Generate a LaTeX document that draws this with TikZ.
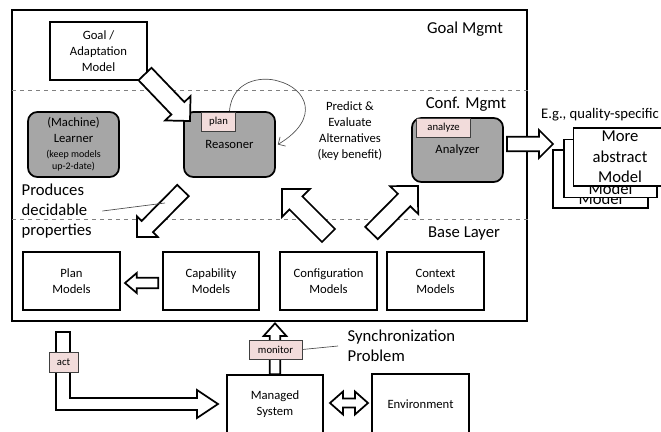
\documentclass[tikz,border=0pt]{standalone}
\usepackage{fontspec}
\setmainfont{Carlito}
\usetikzlibrary{calc,arrows.meta}
\definecolor{boxgray}{RGB}{166,166,166}
\definecolor{tagpink}{RGB}{242,220,219}
\definecolor{dashgray}{RGB}{128,128,128}

% block arrow: from, to, shaft half width, head half width, head length
\newcommand{\fatarrow}[5]{%
  \coordinate (fa) at ($(#2)!#5!(#1)$);
  \filldraw[fat] ($(#1)!#3!90:(#2)$) -- ($(fa)!#3!90:(#2)$) -- ($(fa)!#4!90:(#2)$)
    -- (#2) -- ($(fa)!#4!-90:(#2)$) -- ($(fa)!#3!-90:(#2)$) -- ($(#1)!#3!-90:(#2)$) -- cycle;
}
\newcommand{\fatdouble}[5]{%
  \coordinate (fa) at ($(#2)!#5!(#1)$);
  \coordinate (fb) at ($(#1)!#5!(#2)$);
  \filldraw[fat] (#1) -- ($(fb)!#4!90:(#2)$) -- ($(fb)!#3!90:(#2)$) -- ($(fa)!#3!90:(#2)$)
    -- ($(fa)!#4!90:(#2)$) -- (#2) -- ($(fa)!#4!-90:(#2)$) -- ($(fa)!#3!-90:(#2)$)
    -- ($(fb)!#3!-90:(#2)$) -- ($(fb)!#4!-90:(#2)$) -- cycle;
}

\begin{document}
\begin{tikzpicture}[x=0.75pt,y=-0.75pt,font=\fontsize{9.5}{12}\selectfont]
\tikzstyle{box}=[draw,line width=1.3pt,minimum width=72.75pt,minimum height=43.5pt,inner sep=1pt,align=center]
\tikzstyle{gray box}=[box,fill=boxgray,rounded corners=7pt,minimum width=68.25pt,minimum height=48.75pt]
\tikzstyle{tag}=[draw=black!75,fill=tagpink,line width=0.6pt,inner sep=0pt,minimum height=14.25pt,font=\fontsize{8}{9}\selectfont]
\tikzstyle{layer}=[font=\fontsize{12.5}{15}\selectfont]
\tikzstyle{model}=[box,fill=white,minimum width=69.75pt,font=\fontsize{12.5}{15.5}\selectfont]
\tikzstyle{fat}=[fill=white,draw=black,line width=1.3pt,line join=miter]
\tikzstyle{layer line}=[dashed,dashgray,line width=0.6pt]
\tikzstyle{pointer}=[black!70,line width=0.5pt]

\useasboundingbox (0,0) rectangle (661,432);
\clip (0,0) rectangle (661,432);

\node[draw,line width=1.3pt,minimum width=386.25pt,minimum height=233.25pt] (frame) at (269.5,165.5) {};
\coordinate (goal line) at (12,90);
\coordinate (base line) at (12,219);
\draw[layer line] (goal line) -- (goal line -| frame.east);
\draw[layer line] (base line) -- (base line -| frame.east);

\node[layer] (goal mgmt) at (465,29) {Goal Mgmt};
\node[layer] (conf mgmt) at (466,104) {Conf. Mgmt};
\node[layer] (base layer) at (464,233) {Base Layer};

\node[box] (goal) at (98.5,51) {Goal /\\Adaptation\\Model};
\node[gray box] (learner) at (73.5,144.5) {(Machine)\\Learner\\[-1pt]{\fontsize{7.5}{8}\selectfont (keep models}\\[-3pt]{\fontsize{7.5}{8}\selectfont up-2-date)}};
\node[gray box] (reasoner) at (229.5,144.5) {Reasoner};
\node[gray box,minimum height=48pt] (analyzer) at (457.5,150) {Analyzer};
\node[tag,minimum width=25.5pt,anchor=north west] (plan) at ($(reasoner.north west)+(18,1)$) {plan};
\node[tag,minimum width=40.5pt,anchor=north west] (analyze) at ($(analyzer.north west)+(5,1)$) {analyze};

\node[align=center] (predict) at (350,131) {Predict \&\\Evaluate\\Alternatives\\(key benefit)};
\node[layer,align=left,anchor=west] (produces) at (17,211) {Produces\\decidable\\properties};

\node[box] (plan models) at (71.5,281) {Plan\\Models};
\node[box,minimum width=72pt] (capability) at (211,281) {Capability\\Models};
\node[box] (configuration) at (328.5,281) {Configuration\\Models};
\node[box] (context) at (435.5,281) {Context\\Models};

\node[box,minimum width=72pt] (managed) at (275,404) {Managed\\System};
\node[box,minimum height=45pt] (environment) at (420.5,404) {Environment};

% stacked abstract models
\node[model,minimum width=71.25pt] (model back) at (600.5,179) {};
\node[font=\fontsize{12.5}{15.5}\selectfont] (model back text) at ($(model back.center)+(0,20)$) {Model};
\node[model] (model mid) at (610.5,168.5) {};
\node[font=\fontsize{12.5}{15.5}\selectfont] (model mid text) at ($(model mid.center)+(0,20)$) {Model};
\node[model] (model front) at (620,157) {More\\abstract\\Model};
\node[font=\fontsize{11}{13}\selectfont] (eg) at (600,115) {E.g., quality-specific};

\node[layer,align=left,anchor=west] (sync) at (343,346) {Synchronization\\Problem};

% block arrows
\coordinate (goal out) at (145,74);
\coordinate (reasoner in) at (190,121);
\fatarrow{goal out}{reasoner in}{6.75pt}{13.2pt}{13.2pt}
\coordinate (reasoner out) at (183,190.5);
\coordinate (decidable in) at (137,237);
\fatarrow{reasoner out}{decidable in}{6pt}{11pt}{11pt}
\coordinate (config out) at (328.5,235.5);
\coordinate (reasoner back) at (282,189);
\fatarrow{config out}{reasoner back}{6.9pt}{14.8pt}{14.8pt}
\coordinate (context out) at (371.5,233);
\coordinate (analyzer in) at (418,186);
\fatarrow{context out}{analyzer in}{6.6pt}{14.8pt}{14.8pt}
\coordinate (analyzer out) at (507,144);
\coordinate (stack in) at (553,144);
\fatarrow{analyzer out}{stack in}{5.5pt}{10.5pt}{10.5pt}
\coordinate (capability out) at (158.3,283);
\coordinate (plan in) at (125,283);
\fatarrow{capability out}{plan in}{4pt}{7.5pt}{8.8pt}
\coordinate (frame in) at (275,323.3);
\fatarrow{managed.north}{frame in}{4pt}{8.5pt}{9.5pt}
\coordinate (managed east) at (330,403);
\coordinate (environment west) at (368,403);
\fatdouble{managed east}{environment west}{3.4pt}{8.6pt}{9.75pt}

% act arrow
\coordinate (act from) at (63,332);
\coordinate (act to) at (218,404);
\filldraw[fat] ($(act from)+(-7,0)$) -- ++(14,0) |- ($(act to)+(-21,-6)$) -- ++(0,-8)
  -- (act to) -- ++(-21,14) -- ++(0,-8) -| ($(act from)+(-7,0)$) -- cycle;
\node[tag,minimum width=21.75pt,minimum height=15pt] (act) at (63.5,362) {act};
\node[tag,minimum width=39.75pt] (monitor) at (275.5,349.5) {monitor};

% self loop and pointers
\draw[pointer,-{Straight Barb[length=4pt,width=8pt]}] (reasoner.north) .. controls (232,80) and (262,76) .. (278,81)
  .. controls (306,88) and (322,118) .. ($(reasoner.east)+(2,0)$);
\draw[pointer] ($(produces.east)+(6,0)$) -- (165,203);
\draw[pointer] (monitor.east) -- ([xshift=-3.75pt]sync.west);

\end{tikzpicture}
\end{document}
